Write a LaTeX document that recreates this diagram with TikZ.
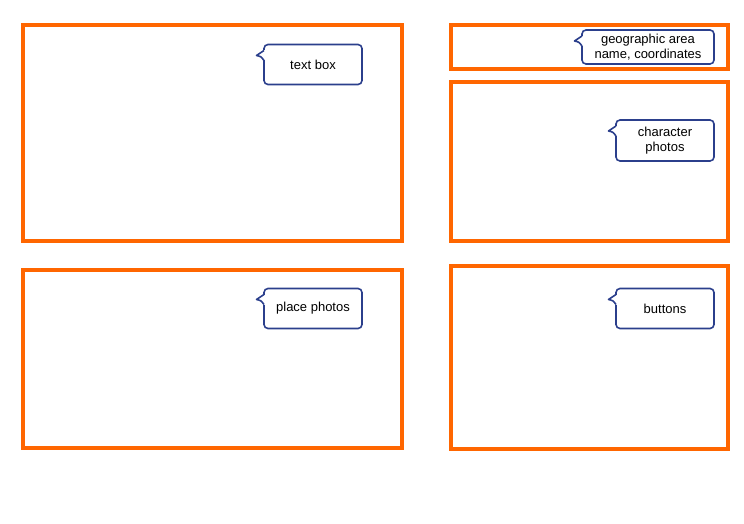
\documentclass[tikz,border=0pt]{standalone}
\usepackage{fontspec}
\setmainfont{Liberation Sans}
\definecolor{frameorange}{HTML}{FF6600}
\definecolor{calloutblue}{HTML}{2B3F8C}
\tikzset{
  frame/.style={draw=frameorange, line width=4pt, inner sep=0pt, outer sep=0pt},
  callout/.style={draw=calloutblue, line width=1.6pt, rounded corners=4pt, fill=white,
    inner sep=0pt, outer sep=0pt, align=center, font=\fontsize{13}{15.5}\selectfont},
  pointer/.style={draw=calloutblue, line width=1.6pt, line join=round}
}
\newcommand{\callpointer}[1]{%
  \fill[white] ([shift={(0.9pt,-6pt)}]#1.north west) rectangle ([shift={(-0.9pt,-16pt)}]#1.north west);
  \draw[pointer] ([yshift=-6pt]#1.north west) .. controls ([shift={(-3pt,-9pt)}]#1.north west) .. ([shift={(-7.5pt,-11pt)}]#1.north west)
    .. controls ([shift={(-3pt,-12pt)}]#1.north west) .. ([yshift=-16pt]#1.north west);
}
\begin{document}
\begin{tikzpicture}[x=1pt,y=-1pt]
\useasboundingbox (0,0) rectangle (744,524);
% frames
\node[frame, minimum width=379pt, minimum height=216pt] (f1) at (212.5,133) {};
\node[frame, minimum width=277pt, minimum height=44pt] (f2) at (589.5,47) {};
\node[frame, minimum width=277pt, minimum height=159pt] (f3) at (589.5,161.5) {};
\node[frame, minimum width=379pt, minimum height=178pt] (f4) at (212.5,359) {};
\node[frame, minimum width=277pt, minimum height=183pt] (f5) at (589.5,357.5) {};
% callouts
\node[callout, minimum width=98pt, minimum height=40pt] (tb) at (313,64.5) {text box};
\node[callout, minimum width=98pt, minimum height=40pt] (pp) at (313,308.5) {place photos};
\node[callout, minimum width=132pt, minimum height=34pt] (ga) at (648,47) {geographic area\\name, coordinates};
\node[callout, minimum width=98pt, minimum height=41pt] (cp) at (665,140.5) {character\\photos};
\node[callout, minimum width=98pt, minimum height=40pt] (bt) at (665,308.5) {buttons};
\callpointer{tb}
\callpointer{pp}
\callpointer{ga}
\callpointer{cp}
\callpointer{bt}
\end{tikzpicture}
\end{document}
